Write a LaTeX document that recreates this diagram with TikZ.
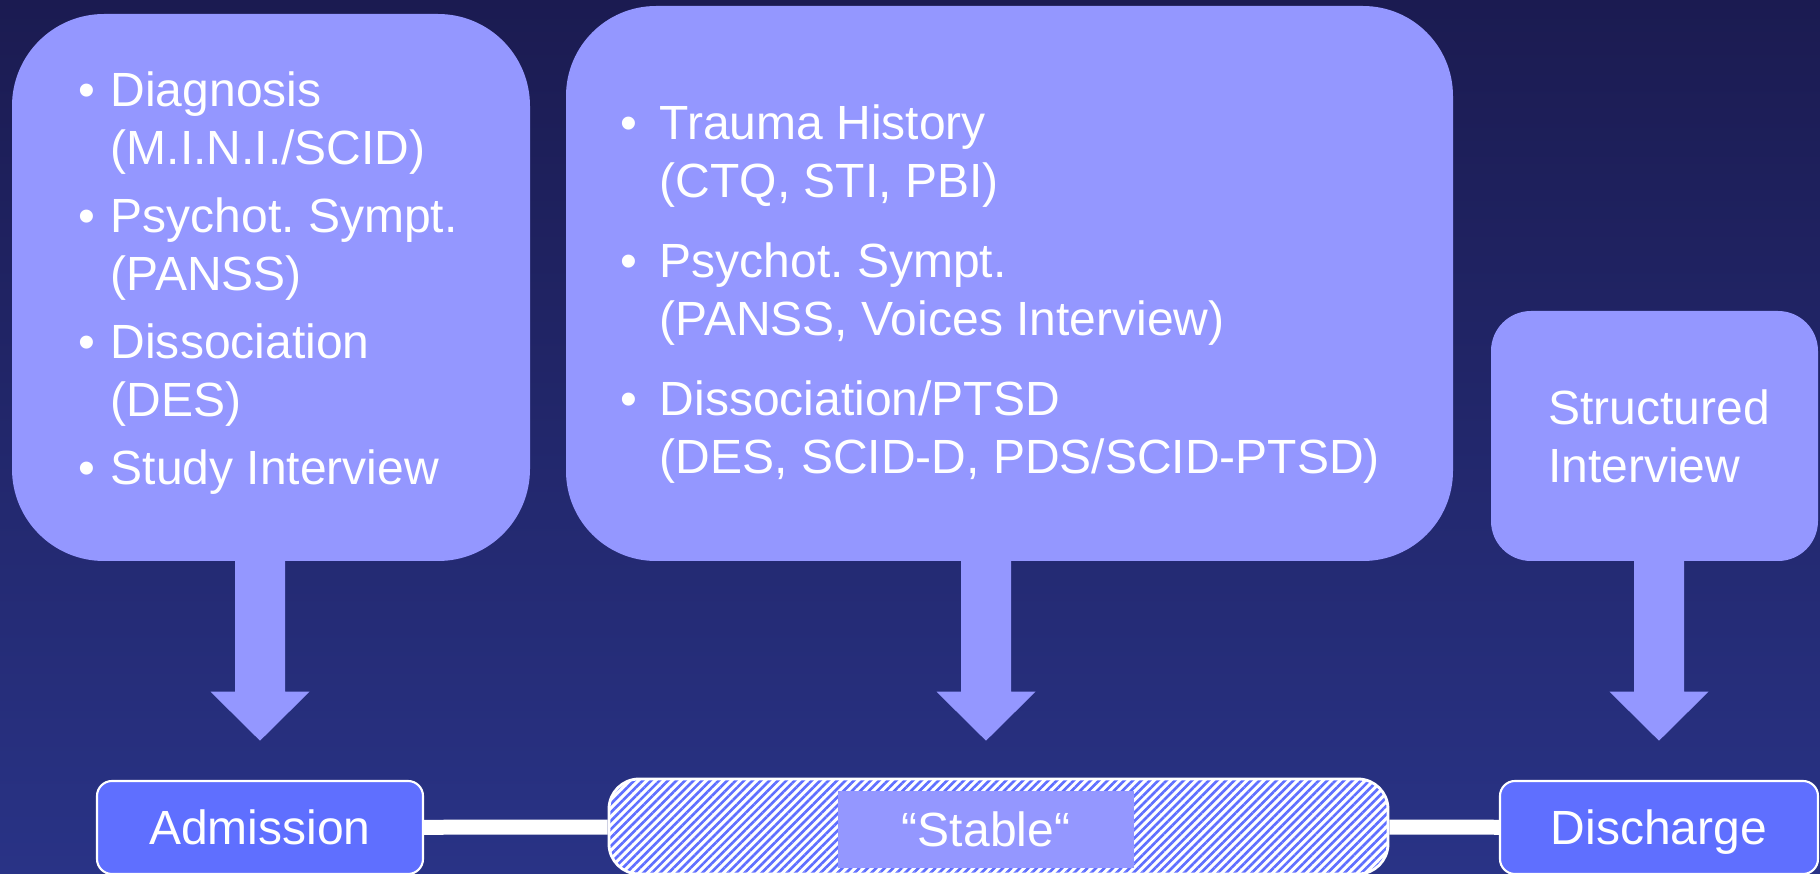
\documentclass[tikz,border=0pt]{standalone}
\usepackage{fontspec}
\setmainfont{Liberation Sans}
\usetikzlibrary{patterns.meta}

\definecolor{bgtop}{RGB}{27,27,81}
\definecolor{bgbottom}{RGB}{41,51,134}
\definecolor{boxblue}{RGB}{148,151,255}
\definecolor{stepblue}{RGB}{95,111,255}

\frenchspacing
\newcommand{\itm}[1][0.32cm]{\makebox[#1][l]{•}}
% block arrow from the bottom of a box down towards a time point
\newcommand{\blockarrow}[2]{%
  \fill[boxblue] (#1.south -| #2.north) ++(-0.25,0.02) -- ++(0,-1.32) -- ++(-0.245,0)
    -- ++(0.495,-0.49) -- ++(0.495,0.49) -- ++(-0.245,0) -- ++(0,1.32) -- cycle;}

\begin{document}
\begin{tikzpicture}[
    every node/.style={text=white, font=\fontsize{13.66pt}{16.5pt}\selectfont},
    testbox/.style={fill=boxblue, rounded corners=#1},
    stepbox/.style={draw=white, line width=0.6pt, fill=stepblue, rounded corners=0.15cm,
      minimum height=0.93cm, inner sep=0pt, text height=9.8pt, text depth=0pt},
    phasebox/.style={draw=white, line width=0.8pt, rounded corners=0.3cm,
      preaction={fill=white}, pattern={Lines[angle=45,distance=1.7pt,line width=0.75pt]},
      pattern color=stepblue, inner sep=0pt},
    timeline/.style={draw=white, line width=0.15cm}]

  \useasboundingbox (0,0) rectangle (18.2,8.74);
  \shade[top color=bgtop, bottom color=bgbottom] (0,0) rectangle (18.2,8.74);

  % assessment boxes
  \node[testbox=0.92cm, minimum width=5.18cm, minimum height=5.47cm] (admtests) at (2.71,5.865) {};
  \node[testbox=0.9cm, minimum width=8.87cm, minimum height=5.55cm] (stabletests) at (10.095,5.905) {};
  \node[testbox=0.4cm, minimum width=3.27cm, minimum height=2.50cm] (distests) at (16.545,4.38) {};

  \begin{scope}[every node/.append style={inner sep=0pt}]
    \node[anchor=base west] (admlist) at (0.78,7.67) {\begin{tabular}[t]{@{}l@{}l@{}}
      \itm & Diagnosis\\
           & (M.I.N.I./SCID)\\[0.1cm]
      \itm & Psychot. Sympt.\\
           & (PANSS)\\[0.1cm]
      \itm & Dissociation\\
           & (DES)\\[0.1cm]
      \itm & Study Interview
    \end{tabular}};
    \node[anchor=base west] (stablelist) at (6.20,7.34) {\begin{tabular}[t]{@{}l@{}l@{}}
      \itm[0.39cm] & Trauma History\\
                   & (CTQ, STI, PBI)\\[0.22cm]
      \itm[0.39cm] & Psychot. Sympt.\\
                   & (PANSS, Voices Interview)\\[0.22cm]
      \itm[0.39cm] & Dissociation/PTSD\\
                   & (DES, SCID-D, PDS/SCID-PTSD)
    \end{tabular}};
    \node[align=left] (distext) at (16.59,4.38) {Structured\\Interview};
  \end{scope}

  % time points
  \node[stepbox, minimum width=3.26cm] (adm) at (2.60,0.465) {Admission};
  \node[phasebox, minimum width=7.79cm, minimum height=0.95cm] (phase) at (9.985,0.475) {};
  \node[fill=boxblue, minimum width=2.96cm, minimum height=0.77cm, inner sep=0pt,
    text height=9.8pt, text depth=0pt] (stable) at (9.86,0.445) {“Stable“};
  \node[stepbox, minimum width=3.18cm] (dis) at (16.59,0.465) {Discharge};

  \path[timeline] (adm) -- (phase);
  \path[timeline] (phase) -- (dis);

  \blockarrow{admtests}{adm}
  \blockarrow{stabletests}{stable}
  \blockarrow{distests}{dis}

\end{tikzpicture}
\end{document}
